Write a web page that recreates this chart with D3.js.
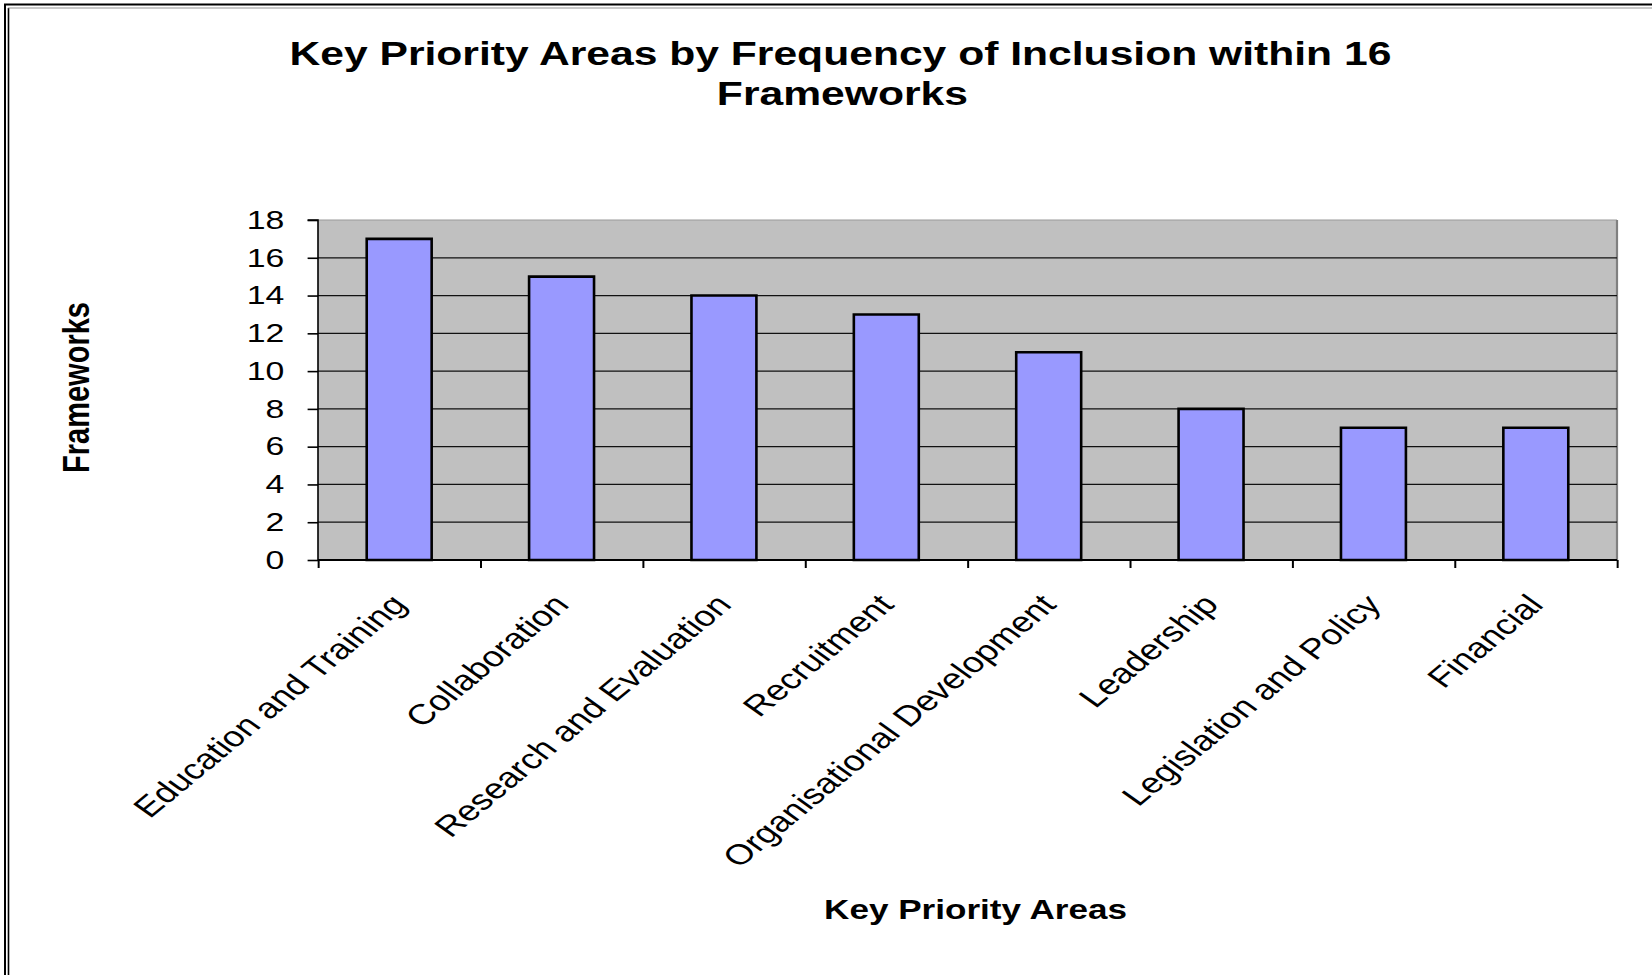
<!DOCTYPE html>
<html>
<head>
<meta charset="utf-8">
<script src="https://cdn.jsdelivr.net/npm/d3@7/dist/d3.min.js"></script>
<style>
  html, body { margin: 0; padding: 0; background: #fff; }
  svg { display: block; }
  text { font-family: "Liberation Sans", Arial, sans-serif; fill: #000; }
</style>
</head>
<body>
<svg id="chart" width="1652" height="975"></svg>
<script>
// Chart data
const categories = [
  "Education and Training",
  "Collaboration",
  "Research and Evaluation",
  "Recruitment",
  "Organisational Development",
  "Leadership",
  "Legislation and Policy",
  "Financial"
];
const frameworks = [17, 15, 14, 13, 11, 8, 7, 7];
const yTicks = [0, 2, 4, 6, 8, 10, 12, 14, 16, 18];
const titleLines = ["Key Priority Areas by Frequency of Inclusion within 16", "Frameworks"];
const xTitle = "Key Priority Areas";
const yTitle = "Frameworks";

// The whole chart is laid out in a horizontally stretched frame
const SX = 1.3;
const W = 1652, H = 975;
const plot = { left: 318 / SX, right: 1617 / SX, top: 220, bottom: 560 };

const svg = d3.select("#chart");

// Double frame (left and top edges)
const frame = svg.append("g").attr("fill", "none").attr("stroke", "#000");
frame.append("line").attr("x1", 5).attr("x2", 5).attr("y1", 4).attr("y2", H).attr("stroke-width", 2);
frame.append("line").attr("x1", 8.5).attr("x2", 8.5).attr("y1", 8).attr("y2", H).attr("stroke-width", 1.6);
frame.append("line").attr("x1", 4).attr("x2", W).attr("y1", 4.5).attr("y2", 4.5).attr("stroke-width", 2.2);
frame.append("line").attr("x1", 8).attr("x2", W).attr("y1", 8).attr("y2", 8).attr("stroke-width", 0.8).attr("stroke", "#777");

const g = svg.append("g").attr("transform", `scale(${SX},1)`);

const x = d3.scaleBand()
  .domain(categories)
  .range([plot.left, plot.right])
  .paddingInner(0.6)
  .paddingOuter(0.3);

const xEdges = d3.scaleLinear()
  .domain([0, categories.length])
  .range([plot.left, plot.right]);

const y = d3.scaleLinear()
  .domain([0, 18])
  .range([plot.bottom, plot.top]);

// Plot background
g.append("rect")
  .attr("x", plot.left).attr("y", plot.top)
  .attr("width", plot.right - plot.left)
  .attr("height", plot.bottom - plot.top)
  .attr("fill", "#C0C0C0");

// Plot border: light top, darker right
g.append("line")
  .attr("x1", plot.left).attr("x2", plot.right)
  .attr("y1", plot.top).attr("y2", plot.top)
  .attr("stroke", "#9a9a9a").attr("stroke-width", 1.2)
  .attr("vector-effect", "non-scaling-stroke");
g.append("line")
  .attr("x1", plot.right).attr("x2", plot.right)
  .attr("y1", plot.top).attr("y2", plot.bottom)
  .attr("stroke", "#808080").attr("stroke-width", 2.2)
  .attr("vector-effect", "non-scaling-stroke");

// Horizontal gridlines
g.append("g")
  .selectAll("line")
  .data(yTicks.filter(v => v > 0 && v < 18))
  .join("line")
  .attr("x1", plot.left).attr("x2", plot.right)
  .attr("y1", d => y(d)).attr("y2", d => y(d))
  .attr("stroke", "#111").attr("stroke-width", 1.2)
  .attr("vector-effect", "non-scaling-stroke");

// Bars
g.append("g")
  .selectAll("rect")
  .data(categories)
  .join("rect")
  .attr("x", d => x(d))
  .attr("y", (d, i) => y(frameworks[i]))
  .attr("width", x.bandwidth())
  .attr("height", (d, i) => y(0) - y(frameworks[i]))
  .attr("fill", "#9999FF")
  .attr("stroke", "#000")
  .attr("stroke-width", 2.6)
  .attr("vector-effect", "non-scaling-stroke");

// Y axis
const yAxis = g.append("g")
  .attr("transform", `translate(${plot.left},0)`)
  .call(d3.axisLeft(y).tickValues(yTicks).tickSize(8).tickPadding(18));
yAxis.selectAll("path, line")
  .attr("stroke", "#000").attr("stroke-width", 1.6)
  .attr("vector-effect", "non-scaling-stroke");
yAxis.select(".domain").attr("d", `M-8,${plot.top}H0V${plot.bottom}`);
yAxis.selectAll("text")
  .style("font-family", '"Liberation Sans", Arial, sans-serif')
  .style("font-size", "26px")
  .attr("fill", "#000");

// X axis: ticks at category boundaries
const xAxis = g.append("g")
  .attr("transform", `translate(0,${plot.bottom})`)
  .call(d3.axisBottom(xEdges).ticks(categories.length).tickSize(8).tickFormat(""));
xAxis.selectAll("path, line")
  .attr("stroke", "#000").attr("stroke-width", 2)
  .attr("vector-effect", "non-scaling-stroke");
xAxis.select(".domain").attr("d", `M${plot.left},0H${plot.right}`);

// Category labels, rotated
g.append("g")
  .selectAll("text")
  .data(categories)
  .join("text")
  .attr("transform", d => `translate(${x(d) + x.bandwidth() / 2 + 7},606) rotate(-47)`)
  .attr("text-anchor", "end")
  .style("font-size", "28.5px")
  .text(d => d);

// Title
g.append("text")
  .attr("x", 646.5).attr("y", 65)
  .attr("text-anchor", "middle")
  .style("font-size", "32.8px").style("font-weight", "bold")
  .text(titleLines[0]);
g.append("text")
  .attr("x", 648).attr("y", 105)
  .attr("text-anchor", "middle")
  .style("font-size", "32.8px").style("font-weight", "bold")
  .text(titleLines[1]);

// Axis titles
g.append("text")
  .attr("x", 975.5 / SX).attr("y", 919)
  .attr("text-anchor", "middle")
  .style("font-size", "27px").style("font-weight", "bold")
  .text(xTitle);
g.append("text")
  .attr("transform", `translate(${89 / SX},387.5) rotate(-90)`)
  .attr("text-anchor", "middle")
  .style("font-size", "29px").style("font-weight", "bold")
  .text(yTitle);
</script>
</body>
</html>
